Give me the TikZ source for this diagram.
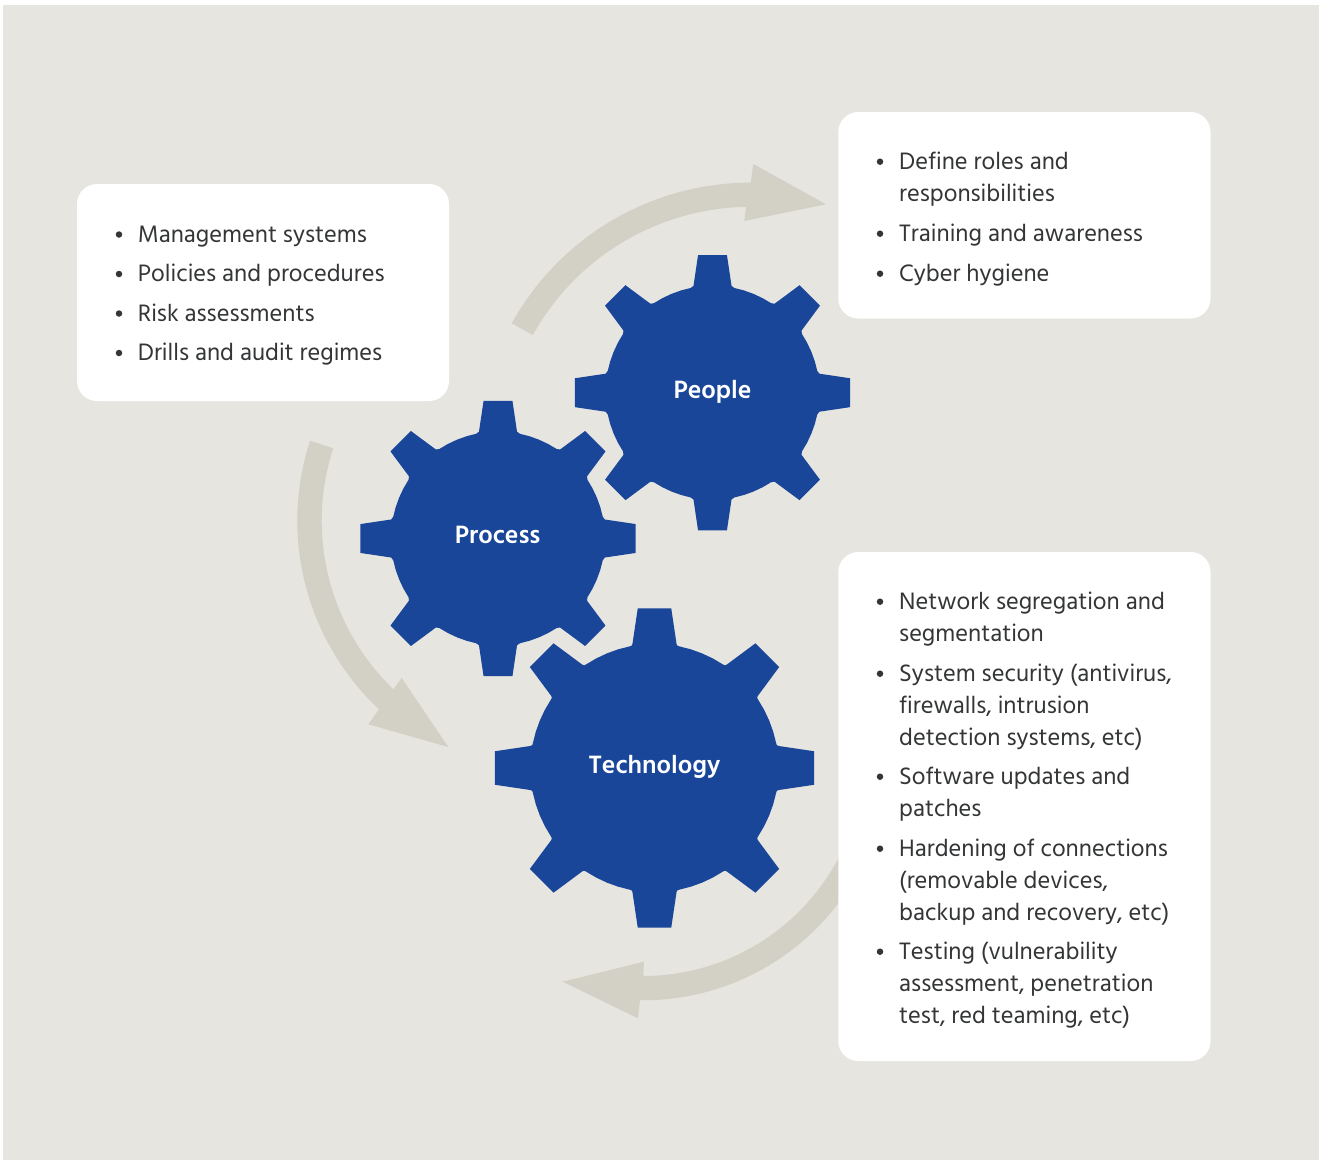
\documentclass[tikz,border=0pt]{standalone}
\usepackage{fontspec}
\setmainfont{Hind Madurai}
\definecolor{bgc}{HTML}{E6E5E0}
\definecolor{arrowc}{HTML}{D3D1C6}
\definecolor{gearc}{HTML}{1A469A}
\definecolor{txtc}{HTML}{333536}
\tikzset{
  arrowshape/.style={fill=arrowc,draw=none},
  card/.style={fill=white,draw=none,rounded corners=20pt},
  gearlabel/.style={text=white,font=\fontsize{25.7}{30}\selectfont\bfseries,inner sep=0pt,anchor=base},
  itemtext/.style={text=txtc,font=\fontsize{24.4}{32}\selectfont,inner sep=0pt,anchor=base west},
  bulletdot/.style={fill=txtc,draw=none,circle,minimum size=6.5pt,inner sep=0pt}
}
% #1 x, #2 y, #3 scale
\newcommand{\cogwheel}[3]{%
  \begin{scope}[shift={(#1,#2)},scale=#3]
  \fill[gearc] (-11.8:107)
  \foreach \a in {0,45,...,315} {
    .. controls (\a-10.6:107) .. (\a-10.1:108.5)
    -- (\a-6:138.3) -- (\a+6:138.3) -- (\a+10.1:108.5)
    .. controls (\a+10.6:107) .. (\a+11.8:107)
    -- (\a+17:107) -- (\a+22.5:107) -- (\a+28:107) -- (\a+33.2:107)
  } -- cycle;
  \end{scope}%
}
\begin{document}
\begin{tikzpicture}[x=1pt,y=-1pt]
\useasboundingbox (0,0) rectangle (1320,1160);
\fill[white] (0,0) rectangle (1320,1160);
\fill[bgc] (3,5) rectangle (1319,1160);
% arrows: shafts are concentric circular arcs
\fill[arrowshape] (511.7,323.3)
  \foreach \t in {210,212,...,268} { -- ([shift={(750.7,456)}]\t:273.4) }
  -- (750.7,182.7) -- (753.3,164) -- (826,204.3) -- (744.3,221) -- (746,207)
  \foreach \t in {268,266,...,210} { -- ([shift={(750.7,456)}]\t:249.2) }
  -- (532.7,335) -- cycle;
\fill[arrowshape] (310,440.7)
  \foreach \t in {196,194,...,136} { -- ([shift={(555.8,520.7)}]\t:258.5) }
  -- (379,709.3) -- (368.3,724.3) -- (448.3,747) -- (401.7,678) -- (393.3,689.3)
  \foreach \t in {136,138,...,196} { -- ([shift={(555.8,520.7)}]\t:234.1) }
  -- (333.3,448.3) -- cycle;
\fill[arrowshape] ([shift={(643,755)}]25:221)
  \foreach \t in {27,29,...,89} { -- ([shift={(643,755)}]\t:221) }
  -- (643.3,975.7) -- (644,961.7) -- (562.7,981.7) -- (638,1018.3) -- (640,1000)
  \foreach \t in {89,87,...,25} { -- ([shift={(643,755)}]\t:245.3) }
  -- cycle;
% gears
\cogwheel{712.5}{392.7}{1}
\cogwheel{498}{538.5}{1}
\cogwheel{654.5}{768}{1.16}
\node[gearlabel] (people) at (712.5,398) {People};
\node[gearlabel] (process) at (497.7,543.5) {Process};
\node[gearlabel] (technology) at (654.5,773.5) {Technology};
% cards
\fill[card] (77,184) rectangle (449,401);
\fill[card] (838.3,112) rectangle (1210.5,318.5);
\fill[card] (838.3,552) rectangle (1210.5,1061);
% card 1
\node[bulletdot] (b1) at (119,234.5) {};
\node[itemtext] (t1) at (137.7,242) {Management systems};
\node[bulletdot] (b2) at (119,274) {};
\node[itemtext] (t2) at (137.7,281.5) {Policies and procedures};
\node[bulletdot] (b3) at (119,313.5) {};
\node[itemtext] (t3) at (137.7,321) {Risk assessments};
\node[bulletdot] (b4) at (119,353) {};
\node[itemtext] (t4) at (137.7,360.5) {Drills and audit regimes};
% card 2
\node[bulletdot] (b5) at (880,161.7) {};
\node[itemtext] (t5) at (899,169) {Define roles and};
\node[itemtext] (t6) at (899,201) {responsibilities};
\node[bulletdot] (b6) at (880,233.7) {};
\node[itemtext] (t7) at (899,241) {Training and awareness};
\node[bulletdot] (b7) at (880,273.7) {};
\node[itemtext] (t8) at (899,281) {Cyber hygiene};
% card 3
\node[bulletdot] (b8) at (880,601.7) {};
\node[itemtext] (t9) at (899,609) {Network segregation and};
\node[itemtext] (t10) at (899,641) {segmentation};
\node[bulletdot] (b9) at (880,673.7) {};
\node[itemtext] (t11) at (899,681) {System security (antivirus,};
\node[itemtext] (t12) at (899,713) {firewalls, intrusion};
\node[itemtext] (t13) at (899,745) {detection systems, etc)};
\node[bulletdot] (b10) at (880,776.7) {};
\node[itemtext] (t14) at (899,784) {Software updates and};
\node[itemtext] (t15) at (899,816) {patches};
\node[bulletdot] (b11) at (880,848.7) {};
\node[itemtext] (t16) at (899,856) {Hardening of connections};
\node[itemtext] (t17) at (899,888) {(removable devices,};
\node[itemtext] (t18) at (899,920) {backup and recovery, etc)};
\node[bulletdot] (b12) at (880,951.7) {};
\node[itemtext] (t19) at (899,959) {Testing (vulnerability};
\node[itemtext] (t20) at (899,991) {assessment, penetration};
\node[itemtext] (t21) at (899,1023) {test, red teaming, etc)};
\end{tikzpicture}
\end{document}
